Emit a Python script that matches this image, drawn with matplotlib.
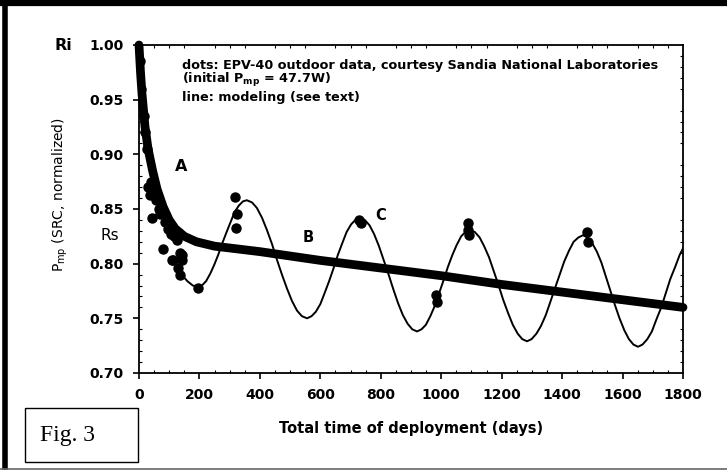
import matplotlib
matplotlib.use('Agg')
import matplotlib.pyplot as plt
from matplotlib.patches import Rectangle
from matplotlib.lines import Line2D

plt.rcParams['font.family'] = ['DejaVu Sans']

# model line (thick): fast initial drop, then slow linear decline
model_days = [0, 5, 10, 20, 30, 45, 60, 80, 100, 120, 150, 190, 250, 400,
              600, 800, 1000, 1200, 1400, 1600, 1800]
model_pmp = [1.000, 0.975, 0.955, 0.925, 0.905, 0.885, 0.868, 0.852, 0.840,
             0.832, 0.825, 0.820, 0.816, 0.811, 0.803, 0.796, 0.789, 0.781,
             0.774, 0.767, 0.760]

# seasonal curve (thin)
season_days = [120, 141, 160, 178,
               195, 208, 222, 236, 249, 262, 276, 290, 303, 316, 330, 344,
               357, 374, 390, 407, 423, 440, 456, 473, 490, 506, 523, 539,
               556, 571, 585, 600, 614, 629, 644, 658, 673, 687, 702, 716,
               731, 747, 763, 778, 794, 810, 826, 841, 857, 873, 889, 904,
               920, 935, 949, 964, 978, 993, 1008, 1022, 1037, 1051, 1066, 1080,
               1095, 1111, 1127, 1142, 1158, 1174, 1190, 1205, 1221, 1237, 1253, 1268,
               1284, 1299, 1315, 1330, 1346, 1361, 1377, 1392, 1407, 1423, 1438, 1454,
               1469, 1484, 1499, 1515, 1530, 1545, 1560, 1575, 1590, 1606, 1621, 1636,
               1651, 1666, 1682, 1697, 1712, 1728, 1743, 1758, 1774, 1789, 1800]
season_pmp = [0.800, 0.790, 0.784, 0.780,
              0.779, 0.780, 0.784, 0.791, 0.799, 0.808, 0.819, 0.829, 0.838, 0.847, 0.853, 0.857,
              0.858, 0.856, 0.851, 0.842, 0.831, 0.818, 0.804, 0.790, 0.777, 0.766, 0.757, 0.752,
              0.750, 0.752, 0.756, 0.763, 0.773, 0.784, 0.796, 0.808, 0.819, 0.829, 0.836, 0.840,
              0.842, 0.840, 0.835, 0.827, 0.816, 0.803, 0.790, 0.777, 0.764, 0.753, 0.745, 0.740,
              0.738, 0.740, 0.744, 0.752, 0.761, 0.773, 0.785, 0.797, 0.808, 0.817, 0.825, 0.829,
              0.831, 0.829, 0.824, 0.816, 0.806, 0.793, 0.780, 0.767, 0.755, 0.744, 0.736, 0.731,
              0.729, 0.731, 0.736, 0.743, 0.753, 0.765, 0.778, 0.790, 0.802, 0.812, 0.820, 0.824,
              0.826, 0.824, 0.819, 0.811, 0.801, 0.788, 0.775, 0.762, 0.750, 0.739, 0.731, 0.726,
              0.724, 0.726, 0.731, 0.738, 0.749, 0.760, 0.773, 0.786, 0.797, 0.808, 0.814]

# outdoor data (dots)
dot_days = [3, 8, 15, 20, 25, 30, 36, 40, 43, 46, 50, 55, 65, 70, 79, 85, 95,
            105, 109, 113, 115, 125, 129, 136, 136, 142, 142, 195,
            318, 321, 324, 728, 734, 983, 985, 1089, 1090, 1091, 1484, 1486]
dot_pmp = [0.985, 0.960, 0.935, 0.920, 0.905, 0.870, 0.863, 0.875, 0.842, 0.867, 0.865,
           0.858, 0.850, 0.845, 0.813, 0.838, 0.832, 0.827, 0.803, 0.803, 0.825,
           0.822, 0.796, 0.790, 0.810, 0.803, 0.808, 0.778,
           0.861, 0.833, 0.845, 0.840, 0.837, 0.771, 0.765, 0.837, 0.831, 0.826,
           0.829, 0.820]

x_ticks = [0, 200, 400, 600, 800, 1000, 1200, 1400, 1600, 1800]
y_ticks = [0.70, 0.75, 0.80, 0.85, 0.90, 0.95, 1.00]

W, H = 727, 471
fig = plt.figure(figsize=(W / 100, H / 100), dpi=100)
ax = fig.add_axes([139 / W, 1 - 373 / H, 544 / W, 328 / H])

ax.plot(season_days, season_pmp, color='black', lw=1.4, zorder=2)
ax.plot(model_days, model_pmp, color='black', lw=6.3, solid_capstyle='round',
        zorder=3, clip_on=False)
ax.plot(dot_days, dot_pmp, 'o', color='black', ms=6.5, zorder=4)

ax.set_xlim(0, 1800)
ax.set_ylim(0.70, 1.00)
ax.set_xticks(x_ticks)
ax.set_yticks(y_ticks)
ax.set_xticklabels([str(v) for v in x_ticks])
ax.set_yticklabels(['%.2f' % v for v in y_ticks])
ax.set_xticks(range(0, 1801, 50), minor=True)
ax.set_yticks([0.70 + 0.01 * i for i in range(31)], minor=True)
ax.tick_params(which='major', direction='out', length=4, width=1.2,
               labelsize=10, pad=7)
ax.tick_params(which='minor', direction='in', length=2, width=0.8,
               top=True, right=True)
for lab in ax.get_xticklabels() + ax.get_yticklabels():
    lab.set_fontweight('bold')
for s in ax.spines.values():
    s.set_linewidth(1.3)

# text annotations
def ft(px, py, s, **kw):
    fig.text(px / W, 1 - py / H, s, **kw)

ft(182, 65, 'dots: EPV-40 outdoor data, courtesy Sandia National Laboratories',
   fontsize=9.2, fontweight='bold', va='center')
ft(182, 80, r'(initial P$_{\bf mp}$ = 47.7W)', fontsize=9.2, fontweight='bold',
   va='center')
ft(182, 98, 'line: modeling (see text)', fontsize=9.2, fontweight='bold', va='center')

ft(55, 45, 'Ri', fontsize=11.5, fontweight='bold', va='center')
ft(100, 235, 'Rs', fontsize=11, va='center')
ft(175, 167, 'A', fontsize=11.5, fontweight='bold', va='center')
ft(303, 238, 'B', fontsize=10.5, fontweight='bold', va='center')
ft(375, 215, 'C', fontsize=10.5, fontweight='bold', va='center')

ft(60, 195, r'P$_{\rm mp}$ (SRC, normalized)', fontsize=10, rotation=90,
   ha='center', va='center')
ft(411, 428, 'Total time of deployment (days)', fontsize=10.5,
   fontweight='bold', ha='center', va='center')

# figure frame and label box
fig.add_artist(Line2D([0, 1], [1 - 2.5 / H, 1 - 2.5 / H], color='black', lw=4.5))
fig.add_artist(Line2D([4.5 / W, 4.5 / W], [1 - 467 / H, 1], color='black', lw=4))
fig.add_artist(Line2D([0, 1], [1 - 469 / H, 1 - 469 / H], color='#666666', lw=1.2))
fig.add_artist(Rectangle((25 / W, 1 - 462 / H), 113 / W, 54 / H,
                         transform=fig.transFigure, fill=False,
                         edgecolor='black', lw=1))
ft(40, 436, 'Fig. 3', fontsize=17, family='Liberation Serif', va='center')

fig.savefig('out.png', dpi=100)
